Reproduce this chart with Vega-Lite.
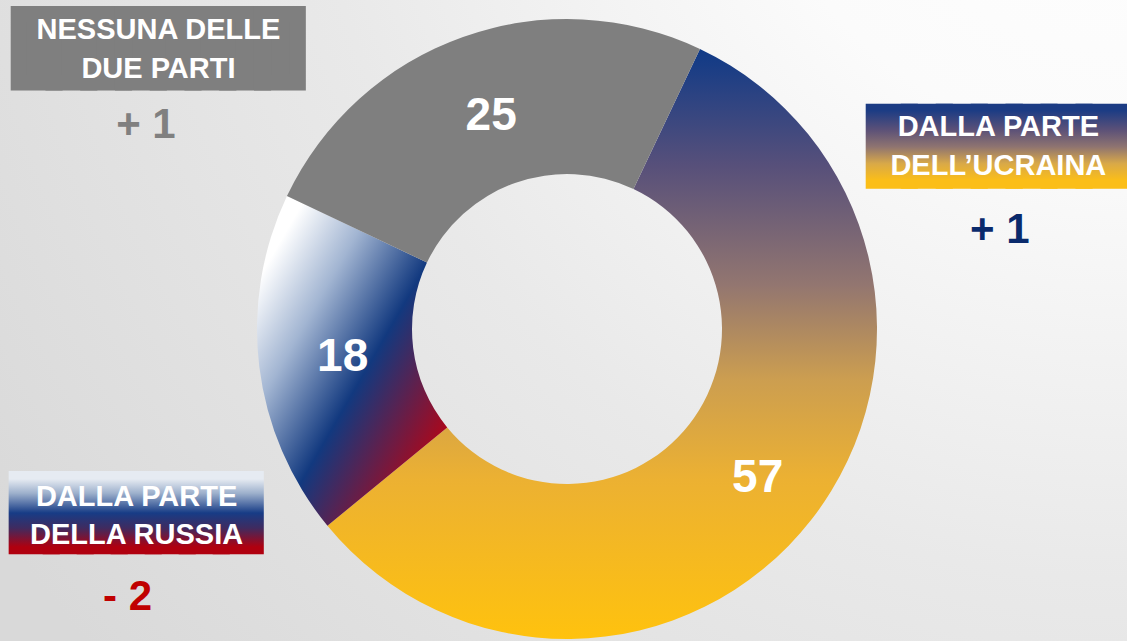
{
  "$schema": "https://vega.github.io/schema/vega-lite/v6.json",
  "width": 1134,
  "height": 658,
  "autosize": {"type": "none"},
  "padding": 0,
  "background": "#e4e4e4",
  "view": {
    "stroke": null,
    "fill": {
      "gradient": "radial",
      "x1": 0.99, "y1": 0, "r1": 0,
      "x2": 0.99, "y2": 0, "r2": 1.2,
      "stops": [
        {"offset": 0, "color": "#ffffff"},
        {"offset": 0.28, "color": "#fbfbfb"},
        {"offset": 0.6, "color": "#e9e9e9"},
        {"offset": 1, "color": "#d9d9d9"}
      ]
    }
  },
  "data": {
    "values": [
      {"key": "Ucraina", "value": 57, "label": "DALLA PARTE\nDELL’UCRAINA", "change": "+ 1"},
      {"key": "Russia", "value": 18, "label": "DALLA PARTE\nDELLA RUSSIA", "change": "- 2"},
      {"key": "Nessuna", "value": 25, "label": "NESSUNA DELLE\nDUE PARTI", "change": "+ 1"}
    ]
  },
  "encoding": {
    "theta": {"field": "value", "type": "quantitative", "stack": true, "scale": {"range": [0.4433, 6.7265]}},
    "order": {"field": "key", "type": "ordinal", "sort": "descending"},
    "detail": {"field": "key", "type": "nominal"}
  },
  "layer": [
    {
      "mark": {"type": "arc", "outerRadius": 310, "innerRadius": 155, "strokeWidth": 0},
      "encoding": {
        "fill": {
          "condition": [
            {"test": "datum.key === 'Ucraina'", "value": {"gradient": "linear", "x1": 0, "y1": 0, "x2": 0, "y2": 1, "stops": [
              {"offset": 0, "color": "#0f3a87"},
              {"offset": 0.2, "color": "#58507a"},
              {"offset": 0.4, "color": "#937670"},
              {"offset": 0.56, "color": "#cc9e50"},
              {"offset": 0.73, "color": "#ecb132"},
              {"offset": 1, "color": "#ffc20e"}]}},
            {"test": "datum.key === 'Russia'", "value": {"gradient": "linear", "x1": 0, "y1": 0, "x2": 1, "y2": 1, "stops": [
              {"offset": 0, "color": "#ffffff"},
              {"offset": 0.13, "color": "#ffffff"},
              {"offset": 0.32, "color": "#a2b5d2"},
              {"offset": 0.55, "color": "#12397f"},
              {"offset": 0.9, "color": "#c3000c"},
              {"offset": 1, "color": "#c3000c"}]}}
          ],
          "value": "#7f7f7f"
        }
      }
    },
    {
      "mark": {"type": "text", "radius": 242, "font": "Liberation Sans", "fontWeight": "bold", "fontSize": 46, "fill": "#ffffff", "align": "center", "baseline": "middle"},
      "encoding": {
        "text": {"condition": {"test": "datum.key === 'Ucraina'", "field": "value", "type": "quantitative"}, "value": ""}
      }
    },
    {
      "mark": {"type": "text", "radius": 226, "font": "Liberation Sans", "fontWeight": "bold", "fontSize": 46, "fill": "#ffffff", "align": "center", "baseline": "middle"},
      "encoding": {
        "text": {"condition": {"test": "datum.key !== 'Ucraina'", "field": "value", "type": "quantitative"}, "value": ""}
      }
    },
    {
      "mark": {"type": "text", "radius": 320, "dx": -301.2, "dy": 40.1, "font": "DejaVu Sans Mono", "fontSize": 57.7, "align": "center", "baseline": "alphabetic",
        "fill": "#7f7f7f", "stroke": "#7f7f7f", "strokeWidth": 16, "strokeJoin": "miter"},
      "encoding": {
        "text": {"condition": {"test": "datum.key === 'Nessuna'", "value": "████████"}, "value": ""}
      }
    },
    {
      "mark": {"type": "text", "radius": 320, "dx": 177.7, "dy": -360.5, "font": "DejaVu Sans Mono", "fontSize": 58.1, "align": "center", "baseline": "alphabetic",
        "fill": {"gradient": "linear", "x1": 0, "y1": 0, "x2": 0, "y2": 1, "stops": [
          {"offset": 0, "color": "#1c3c84"},
          {"offset": 0.27, "color": "#5a5078"},
          {"offset": 0.52, "color": "#8f7470"},
          {"offset": 0.76, "color": "#d9a948"},
          {"offset": 1, "color": "#fbbe18"}]},
        "stroke": {"gradient": "linear", "x1": 0, "y1": 0, "x2": 0, "y2": 1, "stops": [
          {"offset": 0, "color": "#1c3c84"},
          {"offset": 0.27, "color": "#5a5078"},
          {"offset": 0.52, "color": "#8f7470"},
          {"offset": 0.76, "color": "#d9a948"},
          {"offset": 1, "color": "#fbbe18"}]},
        "strokeWidth": 16, "strokeJoin": "miter"},
      "encoding": {
        "text": {"condition": {"test": "datum.key === 'Ucraina'", "value": "███████"}, "value": ""}
      }
    },
    {
      "mark": {"type": "text", "radius": 320, "dx": -113.3, "dy": 164.0, "font": "DejaVu Sans Mono", "fontSize": 56.5, "align": "center", "baseline": "alphabetic",
        "fill": {"gradient": "linear", "x1": 0, "y1": 0, "x2": 0, "y2": 1, "stops": [
          {"offset": 0, "color": "#e6ebf2"},
          {"offset": 0.21, "color": "#9db0cc"},
          {"offset": 0.5, "color": "#173c86"},
          {"offset": 0.72, "color": "#3f2b60"},
          {"offset": 1, "color": "#b0000f"}]},
        "stroke": {"gradient": "linear", "x1": 0, "y1": 0, "x2": 0, "y2": 1, "stops": [
          {"offset": 0, "color": "#e6ebf2"},
          {"offset": 0.21, "color": "#9db0cc"},
          {"offset": 0.5, "color": "#173c86"},
          {"offset": 0.72, "color": "#3f2b60"},
          {"offset": 1, "color": "#b0000f"}]},
        "strokeWidth": 16, "strokeJoin": "miter"},
      "encoding": {
        "text": {"condition": {"test": "datum.key === 'Russia'", "value": "███████"}, "value": ""}
      }
    },
    {
      "mark": {"type": "text", "radius": 320, "dx": -301.2, "dy": 2.0, "font": "Liberation Sans", "fontWeight": "bold", "fontSize": 29, "lineHeight": 39.5, "lineBreak": "\n", "fill": "#ffffff", "align": "center", "baseline": "middle"},
      "encoding": {
        "text": {"condition": {"test": "datum.key === 'Nessuna'", "field": "label", "type": "nominal"}, "value": ""}
      }
    },
    {
      "mark": {"type": "text", "radius": 320, "dx": 179.2, "dy": -398.7, "font": "Liberation Sans", "fontWeight": "bold", "fontSize": 29, "lineHeight": 39, "lineBreak": "\n", "fill": "#ffffff", "align": "center", "baseline": "middle"},
      "encoding": {
        "text": {"condition": {"test": "datum.key === 'Ucraina'", "field": "label", "type": "nominal"}, "value": ""}
      }
    },
    {
      "mark": {"type": "text", "radius": 320, "dx": -112.8, "dy": 129.2, "font": "Liberation Sans", "fontWeight": "bold", "fontSize": 29, "lineHeight": 38, "lineBreak": "\n", "fill": "#ffffff", "align": "center", "baseline": "middle"},
      "encoding": {
        "text": {"condition": {"test": "datum.key === 'Russia'", "field": "label", "type": "nominal"}, "value": ""}
      }
    },
    {
      "mark": {"type": "text", "radius": 320, "dx": -313.7, "dy": 97.5, "font": "Liberation Sans", "fontWeight": "bold", "fontSize": 42, "fill": "#808080", "align": "center", "baseline": "middle"},
      "encoding": {
        "text": {"condition": {"test": "datum.key === 'Nessuna'", "field": "change", "type": "nominal"}, "value": ""}
      }
    },
    {
      "mark": {"type": "text", "radius": 320, "dx": 180.7, "dy": -296.0, "font": "Liberation Sans", "fontWeight": "bold", "fontSize": 42, "fill": "#0a2a6c", "align": "center", "baseline": "middle"},
      "encoding": {
        "text": {"condition": {"test": "datum.key === 'Ucraina'", "field": "change", "type": "nominal"}, "value": ""}
      }
    },
    {
      "mark": {"type": "text", "radius": 320, "dx": -121.8, "dy": 229.0, "font": "Liberation Sans", "fontWeight": "bold", "fontSize": 42, "fill": "#c00000", "align": "center", "baseline": "middle"},
      "encoding": {
        "text": {"condition": {"test": "datum.key === 'Russia'", "field": "change", "type": "nominal"}, "value": ""}
      }
    }
  ]
}
